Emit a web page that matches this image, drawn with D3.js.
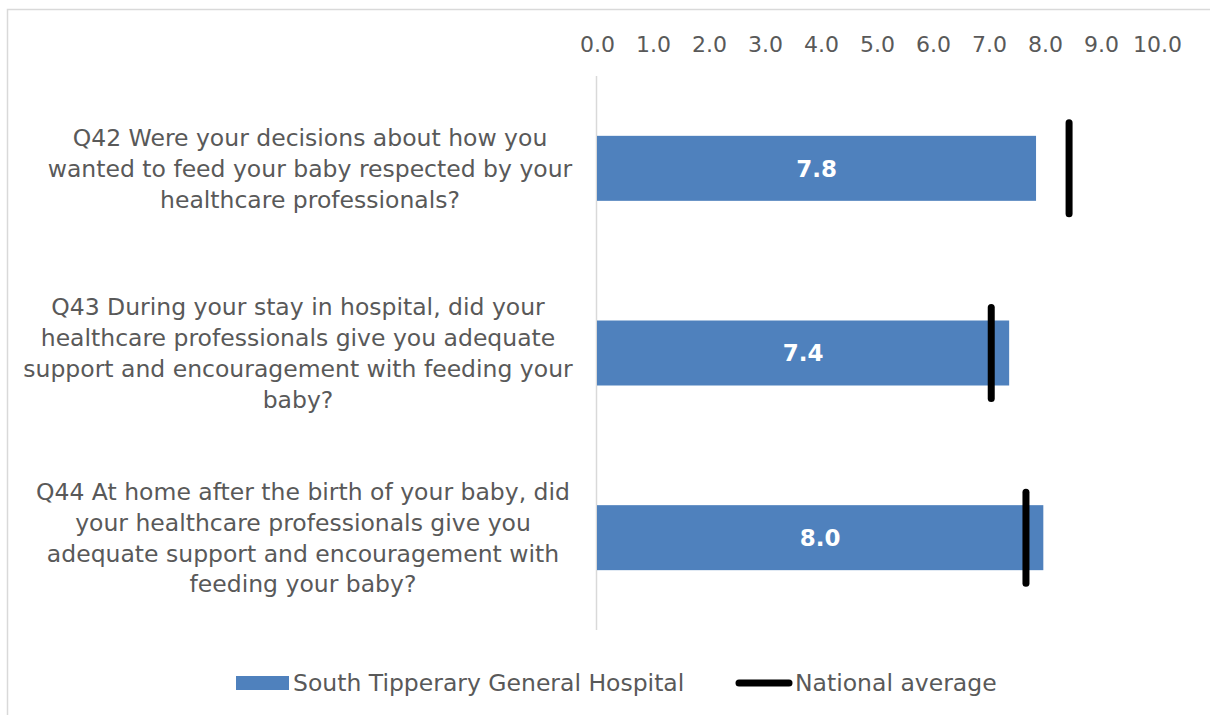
<!DOCTYPE html>
<html>
<head>
<meta charset="utf-8">
<script src="https://cdn.jsdelivr.net/npm/d3@7/dist/d3.min.js"></script>
<style>
  html, body { margin: 0; padding: 0; background: #fff; }
  svg { display: block; }
  text { font-family: "DejaVu Sans", sans-serif; }
</style>
</head>
<body>
<svg id="chart" width="1210" height="715"></svg>
<script>
const categories = [
  ["Q42 Were your decisions about how you", "wanted to feed your baby respected by your", "healthcare professionals?"],
  ["Q43 During your stay in hospital, did your", "healthcare professionals give you adequate", "support and encouragement with feeding your", "baby?"],
  ["Q44 At home after the birth of your baby, did", "your healthcare professionals give you", "adequate support and encouragement with", "feeding your baby?"]
];
const categoryKeys = ["Q42", "Q43", "Q44"];
const hospitalValues = [7.84, 7.36, 7.97];
const nationalValues = [8.43, 7.04, 7.66];
const tickValues = [0, 1, 2, 3, 4, 5, 6, 7, 8, 9, 10];
const seriesNames = ["South Tipperary General Hospital", "National average"];

// layout (not data)
const labelCenterX = [310, 298, 303];

const svg = d3.select("#chart");
const textColor = "#595959";
const barColor = "#4f81bd";

// chart border
svg.append("rect").attr("x", 7.5).attr("y", 9.5).attr("width", 1220).attr("height", 720)
  .attr("fill", "none").attr("stroke", "#d9d9d9").attr("stroke-width", 1.5);

const x = d3.scaleLinear().domain([0, 10]).range([597, 1157]);
const y = d3.scaleBand().domain(categoryKeys).range([76, 630])
  .paddingInner(0.648).paddingOuter(0.324);

// top axis with tick labels
const xAxis = d3.axisTop(x).tickValues(tickValues).tickFormat(d3.format(".1f")).tickSize(0).tickPadding(0);
const gx = svg.append("g").attr("transform", "translate(0,52)").call(xAxis);
gx.select(".domain").remove();
gx.selectAll("text").attr("fill", textColor).style("font-size", "22px")
  .style("font-family", '"DejaVu Sans", sans-serif');

// vertical category axis line
svg.append("line").attr("x1", x(0) - 0.5).attr("x2", x(0) - 0.5).attr("y1", 76).attr("y2", 630)
  .attr("stroke", "#d9d9d9").attr("stroke-width", 1.5);

// bars
svg.selectAll("rect.bar").data(hospitalValues).enter().append("rect")
  .attr("class", "bar")
  .attr("x", x(0))
  .attr("y", (d, i) => y(categoryKeys[i]))
  .attr("width", d => x(d) - x(0))
  .attr("height", y.bandwidth())
  .attr("fill", barColor);

// bar labels
svg.selectAll("text.barlabel").data(hospitalValues).enter().append("text")
  .attr("class", "barlabel")
  .attr("x", d => (x(0) + x(d)) / 2)
  .attr("y", (d, i) => y(categoryKeys[i]) + y.bandwidth() / 2)
  .attr("dy", "0.36em")
  .attr("text-anchor", "middle")
  .attr("fill", "#fff")
  .style("font-size", "23px").style("font-weight", "bold")
  .text(d => d3.format(".1f")(d));

// national average markers
svg.selectAll("line.nat").data(nationalValues).enter().append("line")
  .attr("class", "nat")
  .attr("x1", d => x(d)).attr("x2", d => x(d))
  .attr("y1", (d, i) => y(categoryKeys[i]) - 13)
  .attr("y2", (d, i) => y(categoryKeys[i]) + y.bandwidth() + 13)
  .attr("stroke", "#000").attr("stroke-width", 7).attr("stroke-linecap", "round");

// category labels
const lineH = 30.8;
categories.forEach((lines, i) => {
  const cy = y(categoryKeys[i]) + y.bandwidth() / 2;
  const startY = cy - (lines.length - 1) * lineH / 2;
  const t = svg.append("text").attr("text-anchor", "middle").attr("fill", textColor)
    .style("font-size", "23.5px");
  lines.forEach((ln, j) => {
    t.append("tspan").attr("x", labelCenterX[i]).attr("y", startY + j * lineH).attr("dy", "0.36em").text(ln);
  });
});

// legend
const lg = svg.append("g");
lg.append("rect").attr("x", 236).attr("y", 676).attr("width", 53).attr("height", 14).attr("fill", barColor);
lg.append("text").attr("x", 293).attr("y", 683).attr("dy", "0.36em").attr("fill", textColor)
  .style("font-size", "23.5px").text(seriesNames[0]);
lg.append("line").attr("x1", 739).attr("x2", 789).attr("y1", 683).attr("y2", 683)
  .attr("stroke", "#000").attr("stroke-width", 7).attr("stroke-linecap", "round");
lg.append("text").attr("x", 795).attr("y", 683).attr("dy", "0.36em").attr("fill", textColor)
  .style("font-size", "23.5px").text(seriesNames[1]);
</script>
</body>
</html>
